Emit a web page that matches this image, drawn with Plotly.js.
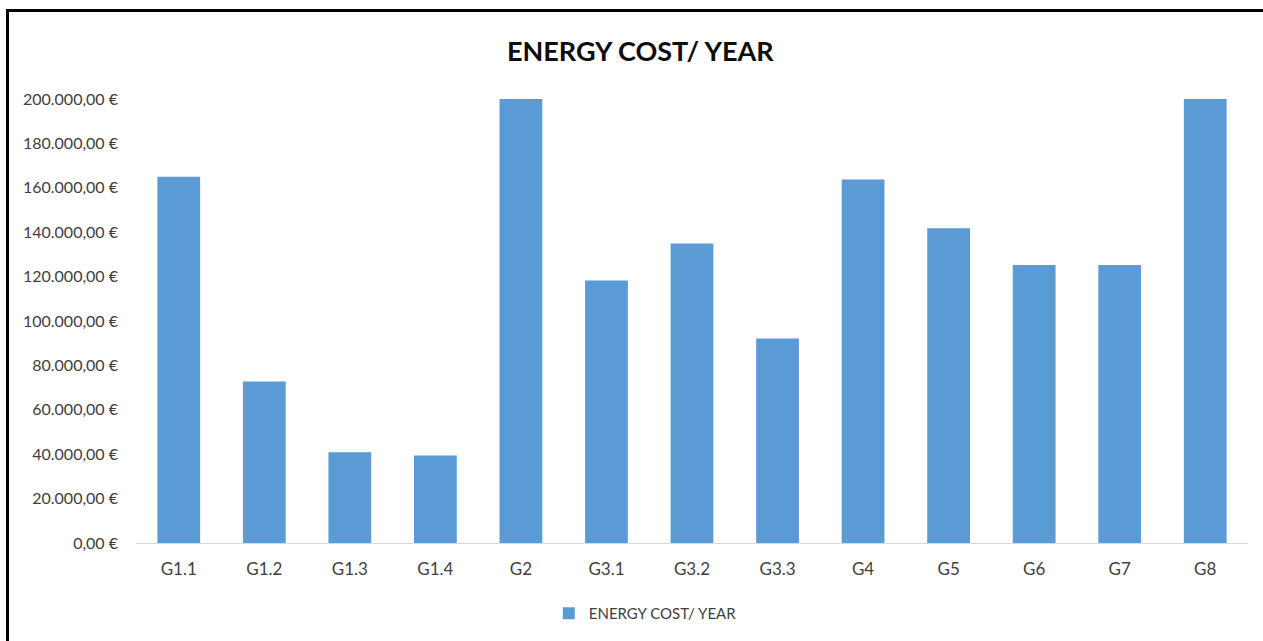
<!DOCTYPE html>
<html>
<head>
<meta charset="utf-8">
<script src="https://cdn.plot.ly/plotly-3.0.1.min.js"></script>
<style>
  html, body { margin: 0; padding: 0; background: #fff; }
  #chart { width: 1263px; height: 641px; }
  #frame { position: absolute; left: 6px; top: 9px; width: 1270px; height: 650px;
           border-left: 3px solid #000; border-top: 3px solid #000; pointer-events: none; }
</style>
</head>
<body>
<div id="chart"></div>
<div id="frame"></div>
<script>
const categories = ["G1.1", "G1.2", "G1.3", "G1.4", "G2", "G3.1", "G3.2", "G3.3", "G4", "G5", "G6", "G7", "G8"];
const energyCost = [165000, 72700, 40900, 39400, 200000, 118200, 134900, 92100, 163700, 141800, 125200, 125200, 200000];
const seriesName = "ENERGY COST/ YEAR";
const chartTitle = "ENERGY COST/ YEAR";
const yTicks = [0, 20000, 40000, 60000, 80000, 100000, 120000, 140000, 160000, 180000, 200000];

function euro(v) {
  const parts = v.toFixed(2).split(".");
  const intPart = parts[0].replace(/\B(?=(\d{3})+(?!\d))/g, ".");
  return intPart + "," + parts[1] + "\u00A0\u20AC";
}
const yTickText = yTicks.map(euro);

const font = "Lato, 'Open Sans', sans-serif";

Plotly.newPlot("chart", [{
  type: "bar",
  x: categories,
  y: energyCost,
  name: seriesName,
  showlegend: true,
  marker: { color: "#5b9bd5", line: { width: 0 } },
  hoverinfo: "x+y"
}], {
  width: 1263, height: 641,
  paper_bgcolor: "#ffffff", plot_bgcolor: "#ffffff",
  margin: { l: 136, r: 15, t: 99, b: 97 },
  bargap: 0.5,
  title: {
    text: "<b>" + chartTitle + "</b>",
    x: 0.507, xanchor: "center", y: 0.919, yanchor: "middle",
    font: { family: font, size: 27, color: "#0d0d0d" }
  },
  xaxis: {
    type: "category",
    showline: true, linecolor: "#d9d9d9", linewidth: 1,
    showgrid: false, zeroline: false,
    ticks: "", ticklabelstandoff: 11,
    tickfont: { family: font, size: 17, color: "#404040" }
  },
  yaxis: {
    range: [0, 200000],
    tickmode: "array",
    tickvals: yTicks,
    ticktext: yTickText,
    showgrid: false, zeroline: false, showline: false,
    ticks: "", ticklabelstandoff: 17,
    tickfont: { family: font, size: 16, color: "#404040" }
  },
  legend: {
    orientation: "h", x: 0.458, xanchor: "center", y: -0.156, yanchor: "middle",
    font: { family: font, size: 15, color: "#404040" }
  }
}, { displayModeBar: false, staticPlot: true });
</script>
</body>
</html>
